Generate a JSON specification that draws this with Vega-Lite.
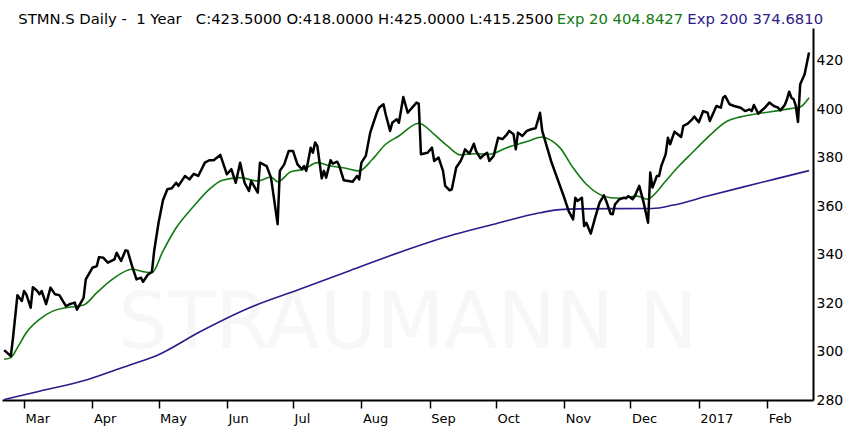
{
  "$schema": "https://vega.github.io/schema/vega-lite/v6.json",
  "width": 811,
  "height": 372,
  "autosize": {"type": "none"},
  "padding": {"left": 2, "top": 28, "right": 37, "bottom": 34},
  "background": "white",
  "config": {"view": {"stroke": null}, "font": "DejaVu Sans"},
  "datasets": {
    "close": [
      {"date": "2016-02-21", "value": 300.6}, {"date": "2016-02-24", "value": 298.1}, {"date": "2016-02-25", "value": 305.7},
      {"date": "2016-02-27", "value": 323.3}, {"date": "2016-02-29", "value": 320.9}, {"date": "2016-03-01", "value": 325},
      {"date": "2016-03-02", "value": 323.7}, {"date": "2016-03-04", "value": 318.1}, {"date": "2016-03-05", "value": 326.6},
      {"date": "2016-03-07", "value": 325}, {"date": "2016-03-08", "value": 323.7}, {"date": "2016-03-09", "value": 325},
      {"date": "2016-03-11", "value": 319.6}, {"date": "2016-03-13", "value": 326.4}, {"date": "2016-03-15", "value": 323.7},
      {"date": "2016-03-17", "value": 323.3}, {"date": "2016-03-20", "value": 318.8}, {"date": "2016-03-22", "value": 319.7},
      {"date": "2016-03-24", "value": 320.2}, {"date": "2016-03-25", "value": 317.3}, {"date": "2016-03-28", "value": 322.2},
      {"date": "2016-03-29", "value": 329.8}, {"date": "2016-04-01", "value": 334.6}, {"date": "2016-04-03", "value": 335.3},
      {"date": "2016-04-04", "value": 339}, {"date": "2016-04-06", "value": 338.7}, {"date": "2016-04-08", "value": 336.7},
      {"date": "2016-04-11", "value": 338.1}, {"date": "2016-04-12", "value": 340.8}, {"date": "2016-04-14", "value": 337.4},
      {"date": "2016-04-16", "value": 341.8}, {"date": "2016-04-17", "value": 341.5}, {"date": "2016-04-19", "value": 335.3},
      {"date": "2016-04-21", "value": 329.8}, {"date": "2016-04-23", "value": 330.5}, {"date": "2016-04-24", "value": 328.8},
      {"date": "2016-04-26", "value": 331.6}, {"date": "2016-04-28", "value": 333}, {"date": "2016-04-29", "value": 341.5},
      {"date": "2016-05-01", "value": 353.2}, {"date": "2016-05-03", "value": 362.5}, {"date": "2016-05-05", "value": 367},
      {"date": "2016-05-07", "value": 367.4}, {"date": "2016-05-09", "value": 369.7}, {"date": "2016-05-10", "value": 368.4},
      {"date": "2016-05-13", "value": 372.5}, {"date": "2016-05-15", "value": 371.1}, {"date": "2016-05-17", "value": 373.4},
      {"date": "2016-05-19", "value": 372.5}, {"date": "2016-05-22", "value": 378}, {"date": "2016-05-24", "value": 379},
      {"date": "2016-05-26", "value": 379}, {"date": "2016-05-29", "value": 381.2}, {"date": "2016-06-01", "value": 373.2},
      {"date": "2016-06-03", "value": 375.3}, {"date": "2016-06-05", "value": 369.7}, {"date": "2016-06-07", "value": 378},
      {"date": "2016-06-09", "value": 369.7}, {"date": "2016-06-11", "value": 366.3}, {"date": "2016-06-12", "value": 370.4},
      {"date": "2016-06-15", "value": 365.6}, {"date": "2016-06-16", "value": 378}, {"date": "2016-06-19", "value": 376.6},
      {"date": "2016-06-21", "value": 371.8}, {"date": "2016-06-24", "value": 352.6}, {"date": "2016-06-25", "value": 374.6},
      {"date": "2016-06-27", "value": 377.3}, {"date": "2016-06-29", "value": 382.8}, {"date": "2016-07-01", "value": 382.8},
      {"date": "2016-07-03", "value": 377.3}, {"date": "2016-07-05", "value": 375.3}, {"date": "2016-07-06", "value": 376.6},
      {"date": "2016-07-07", "value": 374.6}, {"date": "2016-07-09", "value": 384.2}, {"date": "2016-07-10", "value": 382.1},
      {"date": "2016-07-11", "value": 386.3}, {"date": "2016-07-12", "value": 384.9}, {"date": "2016-07-14", "value": 371.5},
      {"date": "2016-07-15", "value": 374.6}, {"date": "2016-07-16", "value": 371.8}, {"date": "2016-07-18", "value": 379},
      {"date": "2016-07-19", "value": 377.6}, {"date": "2016-07-21", "value": 378.4}, {"date": "2016-07-22", "value": 376.6},
      {"date": "2016-07-24", "value": 370.7}, {"date": "2016-07-26", "value": 370.4}, {"date": "2016-07-28", "value": 370.1},
      {"date": "2016-07-30", "value": 372.5}, {"date": "2016-07-31", "value": 371.1}, {"date": "2016-08-01", "value": 378},
      {"date": "2016-08-03", "value": 380.8}, {"date": "2016-08-05", "value": 390.4}, {"date": "2016-08-06", "value": 393.2},
      {"date": "2016-08-08", "value": 398.6}, {"date": "2016-08-09", "value": 400.7}, {"date": "2016-08-11", "value": 402.1},
      {"date": "2016-08-12", "value": 398}, {"date": "2016-08-14", "value": 391.1}, {"date": "2016-08-15", "value": 394.5},
      {"date": "2016-08-17", "value": 395.9}, {"date": "2016-08-18", "value": 394.5}, {"date": "2016-08-20", "value": 405.1},
      {"date": "2016-08-22", "value": 398.6}, {"date": "2016-08-24", "value": 400.7}, {"date": "2016-08-26", "value": 402.8},
      {"date": "2016-08-27", "value": 402.4}, {"date": "2016-08-28", "value": 381.5}, {"date": "2016-08-31", "value": 382.1},
      {"date": "2016-09-02", "value": 384.2}, {"date": "2016-09-03", "value": 378.7}, {"date": "2016-09-05", "value": 380.1},
      {"date": "2016-09-07", "value": 374.6}, {"date": "2016-09-08", "value": 368.4}, {"date": "2016-09-10", "value": 366.6},
      {"date": "2016-09-11", "value": 367}, {"date": "2016-09-13", "value": 376}, {"date": "2016-09-15", "value": 378.7},
      {"date": "2016-09-16", "value": 380.8}, {"date": "2016-09-17", "value": 383.5}, {"date": "2016-09-19", "value": 381.7},
      {"date": "2016-09-21", "value": 385.8}, {"date": "2016-09-22", "value": 382.8}, {"date": "2016-09-24", "value": 379.8},
      {"date": "2016-09-25", "value": 380.8}, {"date": "2016-09-27", "value": 382.1}, {"date": "2016-09-28", "value": 378.7},
      {"date": "2016-09-30", "value": 380.8}, {"date": "2016-10-02", "value": 388.3}, {"date": "2016-10-04", "value": 387.7},
      {"date": "2016-10-06", "value": 389.7}, {"date": "2016-10-07", "value": 391.1}, {"date": "2016-10-09", "value": 389.7},
      {"date": "2016-10-10", "value": 383.5}, {"date": "2016-10-11", "value": 390.4}, {"date": "2016-10-13", "value": 389},
      {"date": "2016-10-15", "value": 391.1}, {"date": "2016-10-17", "value": 391.8}, {"date": "2016-10-19", "value": 392.2},
      {"date": "2016-10-21", "value": 398.6}, {"date": "2016-10-22", "value": 391.1}, {"date": "2016-10-24", "value": 384.9},
      {"date": "2016-10-26", "value": 378.7}, {"date": "2016-10-29", "value": 371.1}, {"date": "2016-11-01", "value": 363.5},
      {"date": "2016-11-02", "value": 360.8}, {"date": "2016-11-03", "value": 358}, {"date": "2016-11-05", "value": 354.6},
      {"date": "2016-11-06", "value": 363.5}, {"date": "2016-11-07", "value": 362.2}, {"date": "2016-11-09", "value": 363.5},
      {"date": "2016-11-10", "value": 351.8}, {"date": "2016-11-11", "value": 353.2}, {"date": "2016-11-13", "value": 348.7},
      {"date": "2016-11-15", "value": 355.3}, {"date": "2016-11-17", "value": 361.5}, {"date": "2016-11-19", "value": 364.5},
      {"date": "2016-11-20", "value": 362.2}, {"date": "2016-11-22", "value": 356.9}, {"date": "2016-11-23", "value": 356.7},
      {"date": "2016-11-24", "value": 360.8}, {"date": "2016-11-26", "value": 362.9}, {"date": "2016-11-28", "value": 363.5},
      {"date": "2016-11-29", "value": 363.3}, {"date": "2016-11-30", "value": 364.2}, {"date": "2016-12-02", "value": 362.9},
      {"date": "2016-12-03", "value": 364.2}, {"date": "2016-12-05", "value": 368.4}, {"date": "2016-12-07", "value": 361.5},
      {"date": "2016-12-08", "value": 357.3}, {"date": "2016-12-09", "value": 353.2}, {"date": "2016-12-10", "value": 373.9},
      {"date": "2016-12-11", "value": 367.7}, {"date": "2016-12-13", "value": 372.5}, {"date": "2016-12-14", "value": 372.5},
      {"date": "2016-12-15", "value": 376.6}, {"date": "2016-12-17", "value": 381.5}, {"date": "2016-12-18", "value": 388.3},
      {"date": "2016-12-19", "value": 385.6}, {"date": "2016-12-21", "value": 390.8}, {"date": "2016-12-22", "value": 390},
      {"date": "2016-12-24", "value": 388.6}, {"date": "2016-12-25", "value": 393.2}, {"date": "2016-12-27", "value": 394.1},
      {"date": "2016-12-29", "value": 395.9}, {"date": "2016-12-30", "value": 397}, {"date": "2017-01-01", "value": 394.7},
      {"date": "2017-01-03", "value": 399.3}, {"date": "2017-01-05", "value": 398.6}, {"date": "2017-01-06", "value": 395.2},
      {"date": "2017-01-08", "value": 399.3}, {"date": "2017-01-09", "value": 401.4}, {"date": "2017-01-11", "value": 400.7},
      {"date": "2017-01-12", "value": 404.8}, {"date": "2017-01-13", "value": 405.5}, {"date": "2017-01-15", "value": 402.1},
      {"date": "2017-01-17", "value": 401.4}, {"date": "2017-01-20", "value": 400.7}, {"date": "2017-01-22", "value": 399.3},
      {"date": "2017-01-24", "value": 400}, {"date": "2017-01-25", "value": 399.3}, {"date": "2017-01-26", "value": 401.8},
      {"date": "2017-01-28", "value": 398.2}, {"date": "2017-01-29", "value": 399.1}, {"date": "2017-01-31", "value": 400.7},
      {"date": "2017-02-02", "value": 402.8}, {"date": "2017-02-04", "value": 401.4}, {"date": "2017-02-06", "value": 400.7},
      {"date": "2017-02-07", "value": 399.6}, {"date": "2017-02-09", "value": 401.8}, {"date": "2017-02-10", "value": 404.2},
      {"date": "2017-02-11", "value": 407.3}, {"date": "2017-02-12", "value": 404.8}, {"date": "2017-02-13", "value": 404.2},
      {"date": "2017-02-14", "value": 401.4}, {"date": "2017-02-15", "value": 394.8}, {"date": "2017-02-16", "value": 410.4},
      {"date": "2017-02-18", "value": 414.5}, {"date": "2017-02-20", "value": 423.5}
    ],
    "ema": [
      {"series": "ema200", "date": "2016-02-21", "value": 280.2}, {"series": "ema200", "date": "2016-03-08", "value": 283.6},
      {"series": "ema200", "date": "2016-03-30", "value": 288.5}, {"series": "ema200", "date": "2016-04-18", "value": 294.5},
      {"series": "ema200", "date": "2016-04-30", "value": 298.3}, {"series": "ema200", "date": "2016-05-20", "value": 308.3},
      {"series": "ema200", "date": "2016-06-11", "value": 318}, {"series": "ema200", "date": "2016-07-04", "value": 325.7},
      {"series": "ema200", "date": "2016-07-27", "value": 333.5}, {"series": "ema200", "date": "2016-08-20", "value": 341.5},
      {"series": "ema200", "date": "2016-09-12", "value": 348.3}, {"series": "ema200", "date": "2016-10-01", "value": 352.8},
      {"series": "ema200", "date": "2016-10-21", "value": 357.3}, {"series": "ema200", "date": "2016-10-30", "value": 358.6},
      {"series": "ema200", "date": "2016-11-08", "value": 358.9}, {"series": "ema200", "date": "2016-12-11", "value": 359.1},
      {"series": "ema200", "date": "2016-12-20", "value": 360.4}, {"series": "ema200", "date": "2017-01-05", "value": 364.2},
      {"series": "ema200", "date": "2017-01-20", "value": 367.7}, {"series": "ema200", "date": "2017-02-04", "value": 371.1},
      {"series": "ema200", "date": "2017-02-20", "value": 374.7},
      {"series": "ema20", "date": "2016-02-21", "value": 296.8}, {"series": "ema20", "date": "2016-02-24", "value": 297.5},
      {"series": "ema20", "date": "2016-02-27", "value": 301.6}, {"series": "ema20", "date": "2016-03-02", "value": 307.8},
      {"series": "ema20", "date": "2016-03-08", "value": 313.3}, {"series": "ema20", "date": "2016-03-14", "value": 316.7},
      {"series": "ema20", "date": "2016-03-20", "value": 318.1}, {"series": "ema20", "date": "2016-03-28", "value": 319.2},
      {"series": "ema20", "date": "2016-04-03", "value": 324.3}, {"series": "ema20", "date": "2016-04-10", "value": 329.8},
      {"series": "ema20", "date": "2016-04-19", "value": 334}, {"series": "ema20", "date": "2016-04-24", "value": 333},
      {"series": "ema20", "date": "2016-04-28", "value": 332.6}, {"series": "ema20", "date": "2016-05-03", "value": 341.5},
      {"series": "ema20", "date": "2016-05-09", "value": 351.1}, {"series": "ema20", "date": "2016-05-17", "value": 360.1},
      {"series": "ema20", "date": "2016-05-24", "value": 367}, {"series": "ema20", "date": "2016-05-30", "value": 370.7},
      {"series": "ema20", "date": "2016-06-07", "value": 371.8}, {"series": "ema20", "date": "2016-06-15", "value": 370.4},
      {"series": "ema20", "date": "2016-06-21", "value": 372.1}, {"series": "ema20", "date": "2016-06-24", "value": 370.1},
      {"series": "ema20", "date": "2016-06-30", "value": 374.2}, {"series": "ema20", "date": "2016-07-06", "value": 375.3},
      {"series": "ema20", "date": "2016-07-12", "value": 378}, {"series": "ema20", "date": "2016-07-18", "value": 376.6},
      {"series": "ema20", "date": "2016-07-25", "value": 375.7}, {"series": "ema20", "date": "2016-07-31", "value": 374.6},
      {"series": "ema20", "date": "2016-08-06", "value": 379.4}, {"series": "ema20", "date": "2016-08-12", "value": 385.6},
      {"series": "ema20", "date": "2016-08-18", "value": 389}, {"series": "ema20", "date": "2016-08-27", "value": 394.3},
      {"series": "ema20", "date": "2016-09-03", "value": 389.7}, {"series": "ema20", "date": "2016-09-09", "value": 384.9},
      {"series": "ema20", "date": "2016-09-15", "value": 381.2}, {"series": "ema20", "date": "2016-09-21", "value": 381.7},
      {"series": "ema20", "date": "2016-09-28", "value": 381.5}, {"series": "ema20", "date": "2016-10-06", "value": 384.2},
      {"series": "ema20", "date": "2016-10-15", "value": 386.7}, {"series": "ema20", "date": "2016-10-22", "value": 388.6},
      {"series": "ema20", "date": "2016-10-24", "value": 388.1}, {"series": "ema20", "date": "2016-10-30", "value": 384.2},
      {"series": "ema20", "date": "2016-11-05", "value": 375.9}, {"series": "ema20", "date": "2016-11-11", "value": 369.1},
      {"series": "ema20", "date": "2016-11-17", "value": 364.9}, {"series": "ema20", "date": "2016-11-22", "value": 363.5},
      {"series": "ema20", "date": "2016-11-26", "value": 363.3}, {"series": "ema20", "date": "2016-12-04", "value": 364.2},
      {"series": "ema20", "date": "2016-12-09", "value": 362.9}, {"series": "ema20", "date": "2016-12-11", "value": 364.2},
      {"series": "ema20", "date": "2016-12-17", "value": 370.4}, {"series": "ema20", "date": "2016-12-23", "value": 376.6},
      {"series": "ema20", "date": "2016-12-29", "value": 382.1}, {"series": "ema20", "date": "2017-01-04", "value": 387.5},
      {"series": "ema20", "date": "2017-01-14", "value": 395.2}, {"series": "ema20", "date": "2017-01-20", "value": 396.9},
      {"series": "ema20", "date": "2017-01-29", "value": 398.4}, {"series": "ema20", "date": "2017-02-07", "value": 399.6},
      {"series": "ema20", "date": "2017-02-14", "value": 400.7}, {"series": "ema20", "date": "2017-02-16", "value": 401},
      {"series": "ema20", "date": "2017-02-20", "value": 404.8}
    ]
  },
  "layer": [
    {
      "data": {"values": [{}]},
      "mark": {"type": "text", "font": "DejaVu Sans", "fontSize": 78, "color": "#f7f7f7", "align": "center", "baseline": "middle"},
      "encoding": {
        "x": {"datum": {"year": 2016, "month": 8, "date": 22, "utc": true}, "type": "temporal"},
        "y": {"datum": 311, "type": "quantitative"},
        "text": {"value": "STRAUMANN N"}
      }
    },
    {
      "data": {"name": "ema"},
      "mark": {"type": "line", "strokeWidth": 1.6, "interpolate": "monotone"},
      "encoding": {
        "x": {
          "field": "date", "type": "temporal",
          "scale": {"type": "utc", "domain": [1455926400000, 1487704320000]},
          "axis": {
            "orient": "bottom", "title": null, "grid": false,
            "tickCount": {"interval": "month", "step": 1},
            "labelExpr": "utcmonth(datum.value) == 0 ? utcFormat(datum.value, '%Y') : utcFormat(datum.value, '%b')",
            "labelAlign": "left", "labelBaseline": "top", "labelOffset": 1, "labelPadding": 4,
            "labelFont": "DejaVu Sans", "labelFontSize": 13, "labelColor": "black",
            "labelFlush": false, "labelOverlap": false,
            "tickColor": "black", "tickSize": 8, "tickWidth": 1.5,
            "domainColor": "black", "domainWidth": 2
          }
        },
        "y": {
          "field": "value", "type": "quantitative",
          "scale": {"domain": [280, 433.6], "zero": false, "nice": false},
          "axis": {
            "orient": "right", "title": null, "grid": false, "ticks": false,
            "values": [280, 300, 320, 340, 360, 380, 400, 420],
            "labelPadding": 3, "labelFont": "DejaVu Sans", "labelFontSize": 14, "labelColor": "black",
            "labelFlush": false,
            "domainColor": "black", "domainWidth": 2
          }
        },
        "color": {
          "field": "series", "type": "nominal",
          "scale": {"domain": ["close", "ema20", "ema200"], "range": ["#000000", "#127a12", "#2e1a8a"]},
          "legend": {
            "orient": "none", "legendX": 1.5, "legendY": -15, "direction": "horizontal",
            "gridAlign": "none",
            "title": null, "padding": 0, "columnPadding": -11.5,
            "symbolSize": 0, "symbolOpacity": 0, "symbolStrokeWidth": 0, "symbolType": "circle",
            "labelOffset": 0, "labelLimit": 1000, "labelFont": "DejaVu Sans", "labelFontSize": 14.8,
            "labelExpr": "datum.value == 'close' ? 'STMN.S Daily -\u00a0\u00a01 Year\u00a0\u00a0\u00a0C:423.5000 O:418.0000 H:425.0000 L:415.2500' : datum.value == 'ema20' ? 'Exp 20 404.8427' : 'Exp 200 374.6810'",
            "encode": {"labels": {"update": {"fill": {"scale": "color", "field": "value"}}}}
          }
        }
      }
    },
    {
      "data": {"name": "close"},
      "mark": {"type": "line", "strokeWidth": 2.5, "strokeJoin": "round"},
      "encoding": {
        "x": {"field": "date", "type": "temporal"},
        "y": {"field": "value", "type": "quantitative"},
        "color": {"datum": "close", "type": "nominal"}
      }
    }
  ]
}
